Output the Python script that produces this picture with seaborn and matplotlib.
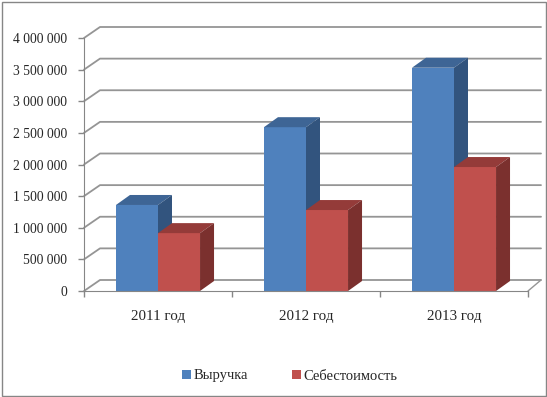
import pandas as pd
import seaborn as sns
import matplotlib.pyplot as plt
from matplotlib.patches import Polygon, Rectangle, Patch

years = ["2011 год", "2012 год", "2013 год"]
series = ["Выручка", "Себестоимость"]
revenue = [1360000, 2590000, 3530000]
cost = [915000, 1280000, 1960000]
y_ticks = [0, 500000, 1000000, 1500000, 2000000, 2500000, 3000000, 3500000, 4000000]

front_colors = ["#4F81BD", "#C0504D"]
top_colors = ["#3E6595", "#943B39"]
side_colors = ["#32547E", "#7B302E"]
grid_color = "#959595"

W, H = 547, 397
# front plane of the chart in pixels
X0, X1, Y0, Y1 = 84, 528, 291, 38

df = pd.DataFrame({
    "year": years * 2,
    "value": revenue + cost,
    "series": [series[0]] * 3 + [series[1]] * 3,
})

sns.set_style("white")
plt.rcParams["font.family"] = ["Liberation Serif", "DejaVu Serif"]

fig = plt.figure(figsize=(W / 100, H / 100), dpi=100)
ax = fig.add_axes([X0 / W, 1 - Y0 / H, (X1 - X0) / W, (Y0 - Y1) / H])

sns.barplot(data=df, x="year", y="value", hue="series", hue_order=series,
            palette=front_colors, width=0.568, saturation=1, edgecolor="none",
            linewidth=0, legend=False, ax=ax)
ax.set_xlim(-0.5, 2.5)
ax.set_ylim(0, 4000000)

# pixel -> data helpers
px = 3 / (X1 - X0)
py = 4000000 / (Y0 - Y1)

# back wall gridlines + diagonals from the front axis
wx_l, wx_r, wy = 16 * px, 13 * px, 11 * py
for v in y_ticks:
    ax.plot([-0.5, -0.5 + wx_l, 2.5 + wx_r], [v, v + wy, v + wy],
            color=grid_color, lw=1.3, clip_on=False, zorder=1)
ax.plot([2.5, 2.5 + wx_r], [0, wy], color=grid_color, lw=1.0, clip_on=False, zorder=1)

# 3d faces of the bars
bx, by = 14 * px, 10 * py
for i, p in enumerate(list(ax.patches)):
    k = i // 3
    x0, w, h = p.get_x(), p.get_width(), p.get_height()
    p.set_zorder(2 + k)
    top = Polygon([(x0, h), (x0 + w, h), (x0 + w + bx, h + by), (x0 + bx, h + by)],
                  closed=True, facecolor=top_colors[k], edgecolor="none",
                  zorder=2.5 + k, clip_on=False)
    side = Polygon([(x0 + w, 0), (x0 + w, h), (x0 + w + bx, h + by), (x0 + w + bx, by)],
                   closed=True, facecolor=side_colors[k], edgecolor="none",
                   zorder=2.5 + k, clip_on=False)
    ax.add_patch(top)
    ax.add_patch(side)

for s in ["top", "right"]:
    ax.spines[s].set_visible(False)
for s in ["left", "bottom"]:
    ax.spines[s].set_color("#868686")
    ax.spines[s].set_zorder(6)

ax.set_yticks(y_ticks)
ax.set_yticklabels([f"{v:,}".replace(",", " ") for v in y_ticks])
ax.tick_params(axis="y", direction="out", length=4, width=1, color="#868686",
               pad=8, labelsize=9.8, left=True)
ax.set_xticks(range(3))
ax.set_xticklabels(years)
ax.set_xticks([-0.5, 0.5, 1.5, 2.5], minor=True)
ax.tick_params(axis="x", which="major", length=0, pad=14, labelsize=10.8)
ax.tick_params(axis="x", which="minor", direction="out", length=4, width=1,
               color="#868686", bottom=True)
ax.set_xlabel("")
ax.set_ylabel("")

handles = [Patch(facecolor=c, edgecolor="none") for c in front_colors]
fig.legend(handles, series, loc="center", bbox_to_anchor=(290 / W, 1 - 376 / H),
           ncol=2, frameon=False, fontsize=10.5, handlelength=0.6, handleheight=0.6,
           handletextpad=0.2, columnspacing=3.0)

fig.patches.append(Rectangle((1.5 / W, 1.5 / H), (W - 3) / W, (H - 3) / H,
                             transform=fig.transFigure, fill=False,
                             edgecolor="#868686", lw=1))

fig.savefig("out.png", dpi=100)
